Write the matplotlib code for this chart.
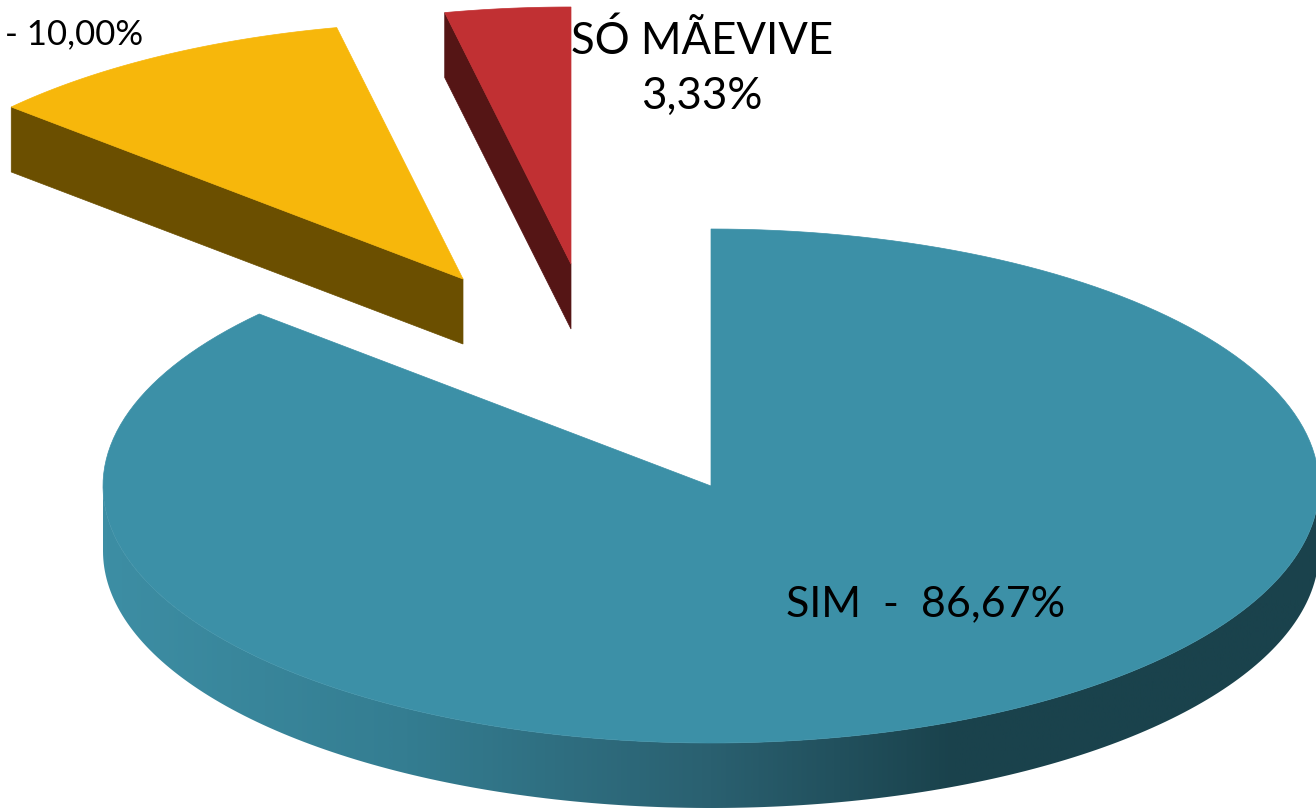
"""Exploded 3D style pie, drawn as projected polygons on a pixel sized axes"""

import numpy as np
import matplotlib

matplotlib.use("Agg")
import matplotlib.pyplot as plt
from matplotlib.colors import LinearSegmentedColormap
from matplotlib.patches import Polygon

SHARES = [86.67, 10.00, 3.33]
LABELS = ["SIM  -  86,67%", "- 10,00%", "SÓ MÃEVIVE\n3,33%"]

TOP_COLORS = ["#3c90a7", "#f7b70b", "#c13033"]
SIDE_COLORS = [None, "#6b4f00", "#551515"]
SHADE = [
    (0.0, "#3d8ea4"),
    (0.25, "#347d91"),
    (0.5, "#2a6070"),
    (0.7, "#1a424c"),
    (1.0, "#1a424c"),
]

WIDTH, HEIGHT = 1316, 808
RX, RY = 608, 257
DEPTH = 65
APEXES = [(711, 486), (463, 279), (571, 264)]
LABEL_POS = [(926, 604), (143, 34), (702, 69)]
LABEL_SIZE = [31, 25, 31.5]
LABEL_HA = ["center", "right", "center"]


def arc(apex, start, end, n=200):
    "Points of the ellipse rim, angles in degrees clockwise from 12 o'clock"
    t = np.radians(np.linspace(start, end, n))
    return np.column_stack([apex[0] + RX * np.sin(t), apex[1] - RY * np.cos(t)])


def add_main_side(ax, apex):
    # only the front half of the rim shows
    rim = arc(apex, 90, 270)
    lower = rim + [0, DEPTH]
    poly = Polygon(np.vstack([rim, lower[::-1]]), fc="none", ec="none")
    ax.add_patch(poly)
    cmap = LinearSegmentedColormap.from_list("side", SHADE)
    grad = np.linspace(0, 1, 512).reshape(1, -1)
    img = ax.imshow(
        grad,
        cmap=cmap,
        extent=(103, 1320, HEIGHT, 400),
        aspect="auto",
        zorder=1,
    )
    img.set_clip_path(poly)


def add_cut_side(ax, apex, angle, color):
    # radial face of an exploded slice
    outer = arc(apex, angle, angle, n=1)[0]
    pts = [outer, apex, (apex[0], apex[1] + DEPTH), (outer[0], outer[1] + DEPTH)]
    ax.add_patch(Polygon(pts, fc=color, ec=color, lw=0.5, zorder=1))


fig = plt.figure(figsize=(WIDTH / 100, HEIGHT / 100), dpi=100)
ax = fig.add_axes([0, 0, 1, 1])

bounds = np.concatenate([[0], np.cumsum(SHARES)]) * 360 / sum(SHARES)

add_main_side(ax, APEXES[0])
for i in range(1, len(SHARES)):
    add_cut_side(ax, APEXES[i], bounds[i], SIDE_COLORS[i])

for i in range(len(SHARES)):
    pts = np.vstack([[APEXES[i]], arc(APEXES[i], bounds[i], bounds[i + 1])])
    ax.add_patch(Polygon(pts, fc=TOP_COLORS[i], ec=TOP_COLORS[i], lw=0.5, zorder=2))

for i in range(len(LABELS)):
    ax.text(
        LABEL_POS[i][0],
        LABEL_POS[i][1],
        LABELS[i],
        fontsize=LABEL_SIZE[i],
        family="Lato",
        color="black",
        ha=LABEL_HA[i],
        va="center",
        linespacing=1.42,
        zorder=3,
    )

ax.set_xlim(0, WIDTH)
ax.set_ylim(HEIGHT, 0)
ax.axis("off")

fig.savefig("out.png", dpi=100, facecolor="white")
